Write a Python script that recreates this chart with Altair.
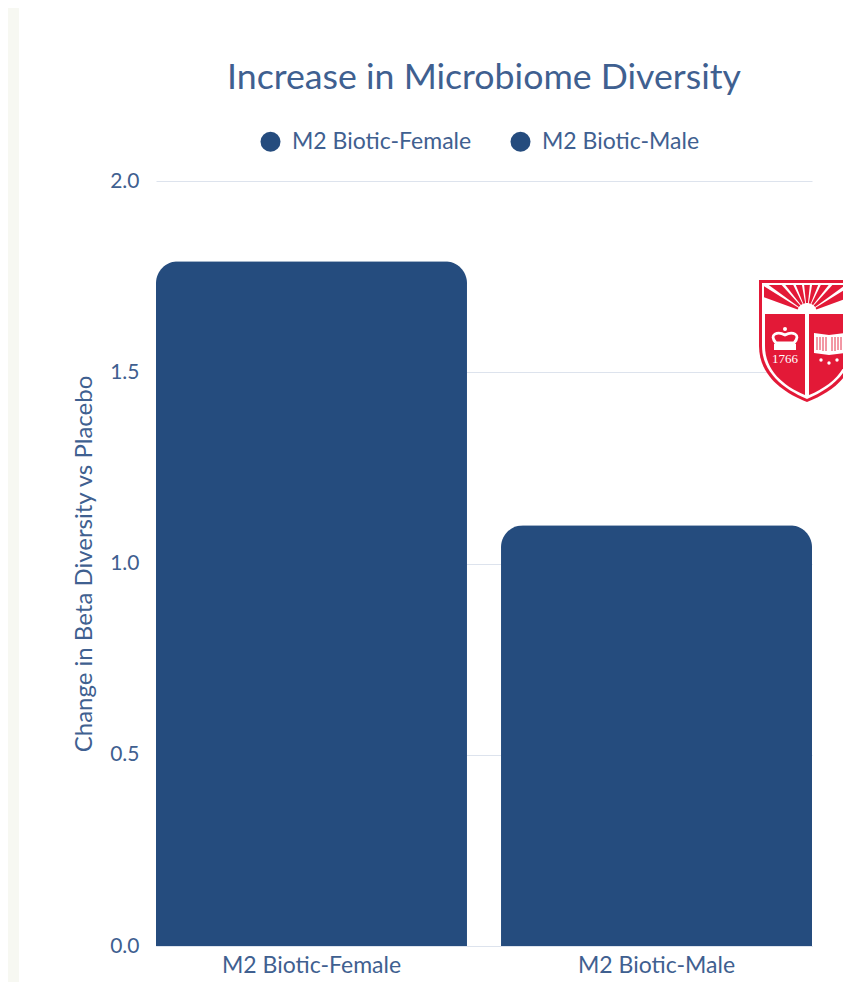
import base64, math
import altair as alt
import pandas as pd

categories = ["M2 Biotic-Female", "M2 Biotic-Male"]
values = [1.79, 1.10]
y_ticks = [0.0, 0.5, 1.0, 1.5, 2.0]
TITLE = "Increase in Microbiome Diversity"
Y_TITLE = "Change in Beta Diversity vs Placebo"
BAR = "#254c7e"
TEXT = "#3f6090"
GRID = "#dde3ed"
FONT = "Lato"

# decorative crest, drawn as a small vector image
rays = ""
for a in [-64, -48, -32, -16, 0, 16, 32, 48, 64]:
    t1, t2 = math.radians(a - 5.8), math.radians(a + 5.8)
    r = 70
    rays += (f'<polygon points="{48+10*math.sin(t1):.1f},{33-10*math.cos(t1):.1f} '
             f'{48+r*math.sin(t1):.1f},{33-r*math.cos(t1):.1f} '
             f'{48+r*math.sin(t2):.1f},{33-r*math.cos(t2):.1f} '
             f'{48+10*math.sin(t2):.1f},{33-10*math.cos(t2):.1f}" fill="#e31937"/>')
logo_svg = f'''<svg xmlns="http://www.w3.org/2000/svg" width="96" height="123" viewBox="0 0 96 123">
<defs><clipPath id="c"><rect x="5" y="5" width="86" height="27"/></clipPath></defs>
<path d="M0 0H96V66C96 94 74 112 48 122C22 112 0 94 0 66Z" fill="#e31937"/>
<path d="M3 3H93V66C93 92 72 109 48 119C24 109 3 92 3 66Z" fill="#fff"/>
<g clip-path="url(#c)">{rays}</g>
<path d="M6 34H46V115C24 106 6 90 6 66Z" fill="#e31937"/>
<path d="M50 34H90V66C90 90 72 106 50 115Z" fill="#e31937"/>
<g fill="#fff">
<circle cx="26" cy="49" r="2"/>
<path d="M17 63C9 54 19 51 26 55C33 51 43 54 35 63Z" fill="none" stroke="#fff" stroke-width="2.8"/>
<rect x="15" y="64" width="22" height="6"/>
<text x="26" y="83" font-family="Liberation Serif" font-size="13" text-anchor="middle">1766</text>
<path d="M55 53L70 55L86 53V73L70 75L55 73Z"/>
<path d="M58 57V70M61 57V70M64 57V71M67 57V71M73 57V71M76 57V71M79 57V70M82 57V70" stroke="#e31937" stroke-width="0.9"/>
<circle cx="62" cy="80" r="1.7"/><circle cx="70" cy="83" r="1.7"/><circle cx="78" cy="80" r="1.7"/>
</g></svg>'''
logo_uri = "data:image/svg+xml;base64," + base64.b64encode(logo_svg.encode()).decode()

df = pd.DataFrame({"cat": categories, "val": values})

bars = alt.Chart(df).mark_bar(cornerRadiusTopLeft=22, cornerRadiusTopRight=22).encode(
    x=alt.X("cat:N", sort=categories, title=None,
            scale=alt.Scale(paddingInner=0.0986, paddingOuter=0),
            axis=alt.Axis(labelAngle=0, labelFont=FONT, labelFontSize=23, labelColor=TEXT,
                          labelPadding=8, ticks=False, domainColor=GRID, domainWidth=1)),
    y=alt.Y("val:Q", title=Y_TITLE, scale=alt.Scale(domain=[0, 2]),
            axis=alt.Axis(values=y_ticks, format=".1f", labelFont=FONT, labelFontSize=21,
                          labelColor=TEXT, labelPadding=17, ticks=False, domain=False,
                          gridColor=GRID, gridWidth=1, titleFont=FONT, titleFontSize=24,
                          titleFontWeight="normal", titleColor=TEXT, titlePadding=13)),
    color=alt.Color("cat:N", sort=categories, title=None,
                    scale=alt.Scale(domain=categories, range=[BAR, BAR]),
                    legend=alt.Legend(orient="none", legendX=103, legendY=-51, direction="horizontal",
                                      symbolType="circle", symbolSize=400, symbolStrokeWidth=0,
                                      labelFont=FONT, labelFontSize=23, labelColor=TEXT, labelLimit=300,
                                      columnPadding=37, labelOffset=10)),
)

logo = alt.Chart(pd.DataFrame({"u": [logo_uri]})).mark_image(width=96, height=123).encode(
    url="u:N", x=alt.value(651), y=alt.value(160.5))

strip = alt.Chart(pd.DataFrame({"a": [0]})).mark_rect(color="#f7f8f2").encode(
    x=alt.value(-148), x2=alt.value(-137), y=alt.value(-173), y2=alt.value(801))

chart = alt.layer(strip, bars, logo).properties(
    width=656, height=765,
    padding={"left": 148, "top": 173, "right": 31, "bottom": 36},
    autosize=alt.AutoSizeParams(type="none"),
    background="white",
    title=alt.TitleParams(TITLE, font=FONT, fontSize=35.7, fontWeight="normal", color=TEXT,
                          anchor="middle", offset=0, dy=89),
).configure_view(stroke=None)

chart.save("out.html", embed_options={"renderer": "svg", "actions": False})
